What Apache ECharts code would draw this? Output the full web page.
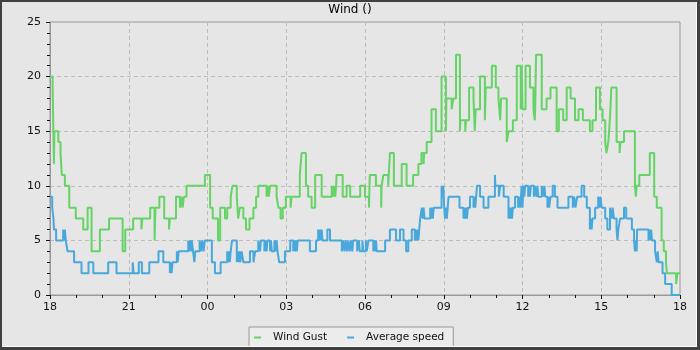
<!DOCTYPE html>
<html>
<head>
<meta charset="utf-8">
<script src="https://cdn.jsdelivr.net/npm/echarts@6/dist/echarts.min.js"></script>
<style>
  html, body { margin: 0; padding: 0; background: #e6e6e6; }
  #wrap { position: relative; width: 700px; height: 350px; }
  #chart { position: absolute; left: 0; top: 0; width: 700px; height: 350px; }
  #frame {
    position: absolute; left: 0; top: 0; width: 700px; height: 350px;
    box-sizing: border-box; pointer-events: none;
    border-left: 2px solid #404040; border-top: 2px solid #404040;
    border-right: 3px solid #404040; border-bottom: 3px solid #404040;
    box-shadow: inset -1px -1px 0 #ffffff;
  }
</style>
</head>
<body>
<div id="wrap">
  <div id="chart"></div>
  <div id="frame"></div>
</div>
<script>
// Wind readings over 24 hours, starting at 18:00.
// Each entry is [minutes since 18:00, value]; the value holds until the next entry.
const seriesNames = ['Wind Gust', 'Average speed'];
const xTickLabels = ['18', '21', '00', '03', '06', '09', '12', '15', '18'];

const gustSteps = [
  [0,20],[6,19],[9,12],[10,15],[19,14],[24,13],[27,11],[34,10],[44,8],[59,7],[76,6],[86,8],[95,4],
  [114,6],[135,7],[166,4],[172,6],[190,7],[209,6],[211,7],[229,8],[239,5],[241,8],[250,9],[261,7],
  [272,6],[274,7],[288,9],[297,8],[300,9],[303,8],[306,9],[312,10],[354,11],[366,8],[372,7],[384,5],
  [389,8],[400,7],[405,8],[413,9],[417,10],[427,9],[430,7],[434,8],[442,7],[448,6],[456,7],[465,8],
  [471,9],[476,10],[495,9],[498,10],[500,9],[503,10],[518,9],[522,8],[527,7],[532,8],[539,9],
  [550,8],[552,9],[571,11],[575,13],[585,10],[590,9],[598,8],[606,11],[621,9],[644,10],[647,9],
  [649,10],[652,9],[654,10],[655,11],[669,9],[678,10],[686,9],[709,10],[720,9],[729,8],[731,11],
  [745,10],[757,8],[758,10],[762,11],[773,10],[777,13],[786,10],[804,12],[815,10],[830,11],[842,12],
  [849,13],[854,12],[855,13],[861,14],
  [872,17],[882,15],[895,20],[905,15],[906,18],[918,17],[922,18],[928,22],[937,15],[938,16],[949,15],
  [951,16],[958,19],[968,18],[971,15],[973,17],[983,20],[994,16],[996,19],[1010,21],[1019,19],
  [1025,18],[1029,16],[1031,18],[1044,14],[1048,15],[1058,16],[1067,21],[1076,17],[1078,21],
  [1080,17],[1087,21],[1097,19],[1105,17],[1108,16],[1109,17],[1111,22],[1124,17],[1135,18],
  [1144,19],[1158,15],[1163,17],[1173,16],[1181,19],[1190,18],[1200,16],[1208,17],[1218,16],
  [1234,15],[1240,16],[1248,19],[1257,17],[1263,16],[1269,14],[1272,13],[1276,14],[1278,15],
  [1281,17],[1283,19],[1295,14],[1302,13],[1304,14],[1312,15],[1337,10],[1339,9],[1341,10],
  [1347,11],[1371,13],[1381,9],[1387,8],[1398,5],[1403,4],[1408,3],[1410,2],[1431,1],[1434,2],[1440,2]
];

const speedSteps = [
  [0,9],[5,8],[8,7],[9,6],[14,5],[30,6],[32,5],[34,6],[36,5],[40,4],[55,3],[72,2],[88,3],[99,2],
  [133,3],[152,2],[189,3],[191,2],[203,3],[210,2],[227,3],[248,4],[259,3],[274,2],[276,3],[278,2],
  [280,3],[290,4],[292,3],[294,4],[316,5],[318,4],[320,5],[322,4],[324,5],[327,4],[330,3],[332,4],
  [342,5],[345,4],[348,5],[351,4],[354,5],[370,3],[377,2],[390,3],[405,4],[407,3],[409,4],[411,3],
  [413,4],[416,5],[427,3],[429,4],[431,3],[433,4],[435,3],[438,4],[442,3],[457,4],[465,3],[469,4],
  [476,5],[480,4],[482,5],[490,4],[492,5],[495,4],[497,5],[503,4],[505,5],[507,4],[510,4],[513,5],
  [515,4],[518,5],[520,4],[524,3],[537,4],[549,5],[556,4],[558,5],[560,4],[562,5],[564,4],[566,5],
  [570,5],[594,4],[608,5],[613,6],[615,5],[617,6],[619,5],[621,6],[623,5],[634,6],[640,5],
  [667,4],[670,5],[673,4],[676,5],[679,4],[682,5],[685,4],[688,5],[691,4],[693,5],[702,4],[706,5],
  [708,4],[714,5],[716,4],[722,5],[724,4],[728,5],[739,4],[741,5],[743,4],[745,5],[747,4],[750,4],
  [766,5],[777,6],[791,5],[800,6],[808,5],[814,4],[819,5],[827,6],[834,5],[836,6],[838,5],[840,6],
  [842,5],[844,6],[846,7],[850,8],[852,7],[854,8],[856,7],[859,7],[869,8],[871,7],[873,8],[875,7],
  [877,8],[895,10],[897,9],[899,10],[901,8],[903,7],[905,8],[907,7],[909,8],[911,9],[936,8],[945,7],
  [947,8],[949,7],[951,8],[953,7],[955,8],[960,9],[968,8],[970,9],[972,8],[974,9],[976,10],[983,9],
  [991,8],[1002,9],[1017,11],[1018,10],[1026,9],[1029,10],[1037,9],[1048,7],[1050,8],[1052,7],
  [1054,8],[1056,7],[1058,8],[1063,9],[1070,8],[1072,9],[1075,8],[1078,10],[1080,8],[1082,10],
  [1084,9],[1086,10],[1093,9],[1095,10],[1097,9],[1099,10],[1106,9],[1108,10],[1112,9],[1114,10],
  [1116,9],[1124,10],[1127,9],[1130,10],[1132,9],[1137,8],[1139,9],[1141,8],[1144,9],[1149,10],
  [1154,9],[1160,8],[1185,9],[1195,8],[1198,9],[1201,8],[1205,9],[1215,10],[1221,9],[1227,8],
  [1234,6],[1236,7],[1238,6],[1240,7],[1246,8],[1253,9],[1256,8],[1258,9],[1261,8],[1269,7],
  [1274,6],[1280,8],[1284,7],[1286,8],[1289,7],[1295,6],[1297,5],[1299,6],[1303,7],[1312,8],
  [1317,7],[1330,6],[1335,5],[1337,4],[1339,5],[1341,4],[1342,6],[1368,5],[1370,6],[1372,5],
  [1374,6],[1376,5],[1383,4],[1387,3],[1389,4],[1391,3],[1400,2],[1406,1],[1421,0],[1440,0]
];

const font = 'DejaVu Sans';
const gustColor = '#66d366';
const speedColor = '#48a8dc';
const dashed = { type: [4, 3], color: '#bdbdbd', width: 1 };

const chart = echarts.init(document.getElementById('chart'), null, { renderer: 'canvas' });
chart.setOption({
  backgroundColor: '#e6e6e6',
  animation: false,
  title: {
    text: 'Wind ()',
    left: 'center',
    top: 4,
    padding: 0,
    textStyle: { fontFamily: font, fontSize: 12, fontWeight: 'normal', color: '#000' }
  },
  grid: {
    left: 50, right: 20, top: 22, bottom: 55,
    show: true, borderColor: '#999', borderWidth: 1, backgroundColor: 'transparent'
  },
  xAxis: {
    type: 'value',
    min: 0, max: 1440, interval: 180,
    axisLine: { show: true, lineStyle: { color: '#999', width: 1 } },
    axisTick: { show: true, length: 4, lineStyle: { color: '#111' } },
    minorTick: { show: true, splitNumber: 3, length: 3, lineStyle: { color: '#111' } },
    splitLine: { show: true, lineStyle: dashed },
    axisLabel: {
      margin: 7, fontFamily: font, fontSize: 11, color: '#111',
      formatter: v => xTickLabels[Math.round(v / 180)]
    }
  },
  yAxis: {
    type: 'value',
    min: 0, max: 25, interval: 5,
    axisLine: { show: true, lineStyle: { color: '#999', width: 1 } },
    axisTick: { show: true, length: 4, lineStyle: { color: '#111' } },
    minorTick: { show: true, splitNumber: 5, length: 3, lineStyle: { color: '#111' } },
    splitLine: { show: true, lineStyle: dashed },
    axisLabel: { margin: 9, fontFamily: font, fontSize: 11, color: '#111' }
  },
  legend: {
    left: 249, top: 327,
    padding: [5, 9, 5, 5],
    itemGap: 20, itemWidth: 7, itemHeight: 2, icon: 'rect',
    borderColor: '#999', borderWidth: 1, backgroundColor: '#ececec',
    textStyle: { fontFamily: font, fontSize: 10.5, color: '#111', padding: [0, 0, 0, 7] },
    data: seriesNames
  },
  series: [
    {
      name: seriesNames[0], type: 'line', step: 'end', showSymbol: false,
      color: gustColor, lineStyle: { width: 2, color: gustColor }, data: gustSteps
    },
    {
      name: seriesNames[1], type: 'line', step: 'end', showSymbol: false,
      color: speedColor, lineStyle: { width: 2, color: speedColor }, data: speedSteps
    }
  ]
});
</script>
</body>
</html>
